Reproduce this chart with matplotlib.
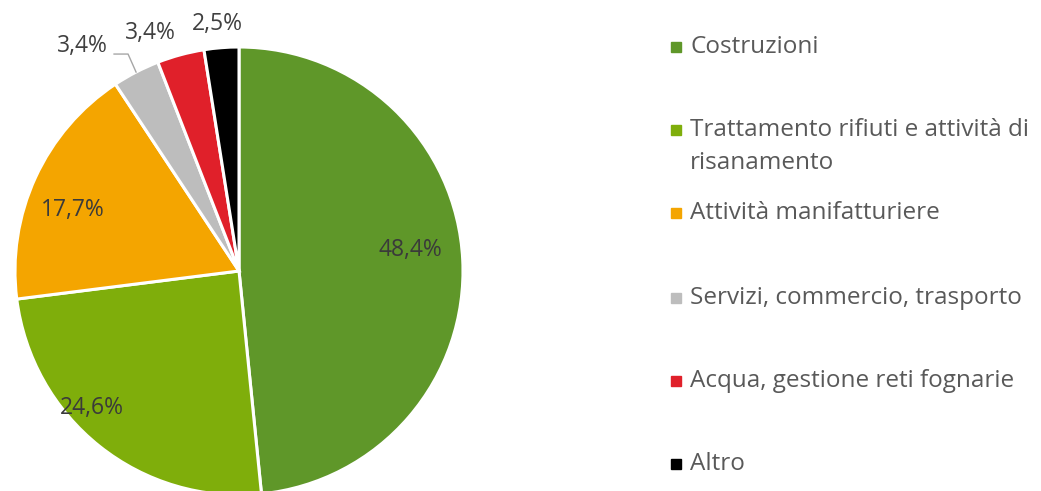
import numpy as np
import matplotlib.pyplot as plt

plt.rcParams['font.family'] = ['Open Sans', 'DejaVu Sans']

categories = ['Costruzioni',
              'Trattamento rifiuti e attività di\nrisanamento',
              'Attività manifatturiere',
              'Servizi, commercio, trasporto',
              'Acqua, gestione reti fognarie',
              'Altro']
shares = [48.4, 24.6, 17.7, 3.4, 3.4, 2.5]
colors = ['#5f9729', '#7fae0b', '#f4a500', '#bdbdbd', '#e0202a', '#000000']

# label placement: (radial distance in radii, angular nudge in degrees)
label_pos = [(0.77, 4.0), (0.90, -8.5), (0.79, 4.6),
             (1.225, 7.5), (1.133, 5.2), (1.107, 0.6)]
label_colors = ['#3a3a3a'] * 3 + ['#404040'] * 3

W, H = 1041, 491
cx, cy, r = 239, H - 271, 224

fig = plt.figure(figsize=(W / 100, H / 100), dpi=100)
ax = fig.add_axes([0, 0, 1, 1])

wedges, _ = ax.pie(shares, colors=colors, startangle=90, counterclock=False,
                   center=(cx, cy), radius=r, frame=True,
                   wedgeprops=dict(edgecolor='white', linewidth=2.2))
ax.set_xlim(0, W)
ax.set_ylim(0, H)
ax.set_aspect('equal')
ax.axis('off')

# percentage labels, placed from each wedge's mid angle
for w, val, (dist, nudge), tc in zip(wedges, shares, label_pos, label_colors):
    mid = np.deg2rad((w.theta1 + w.theta2) / 2 + nudge)
    tx = cx + r * dist * np.cos(mid)
    ty = cy + r * dist * np.sin(mid)
    ax.text(tx, ty, f'{val:.1f}%'.replace('.', ','), ha='center',
            va='center', fontsize=16.5, color=tc)

# leader line for the grey slice
w = wedges[3]
mid = np.deg2rad((w.theta1 + w.theta2) / 2)
p0 = (cx + r * np.cos(mid), cy + r * np.sin(mid))
p1 = (p0[0] - 8, p0[1] + 18)
p2 = (p1[0] - 14, p1[1])
ax.plot([p0[0], p1[0], p2[0]], [p0[1], p1[1], p2[1]], color='#a6a6a6', lw=1.0)

# legend
legend_rows = [47, 130, 213, 298, 381, 464]
for name, col, y in zip(categories, colors, legend_rows):
    ax.plot(676, H - y, marker='s', markersize=7.5, color=col, linestyle='none')
    for i, line in enumerate(name.split('\n')):
        ax.text(690, H - y - 33 * i, line, ha='left', va='center',
                fontsize=17.5, color='#595959')

fig.savefig('out.png', dpi=100, facecolor='white')
